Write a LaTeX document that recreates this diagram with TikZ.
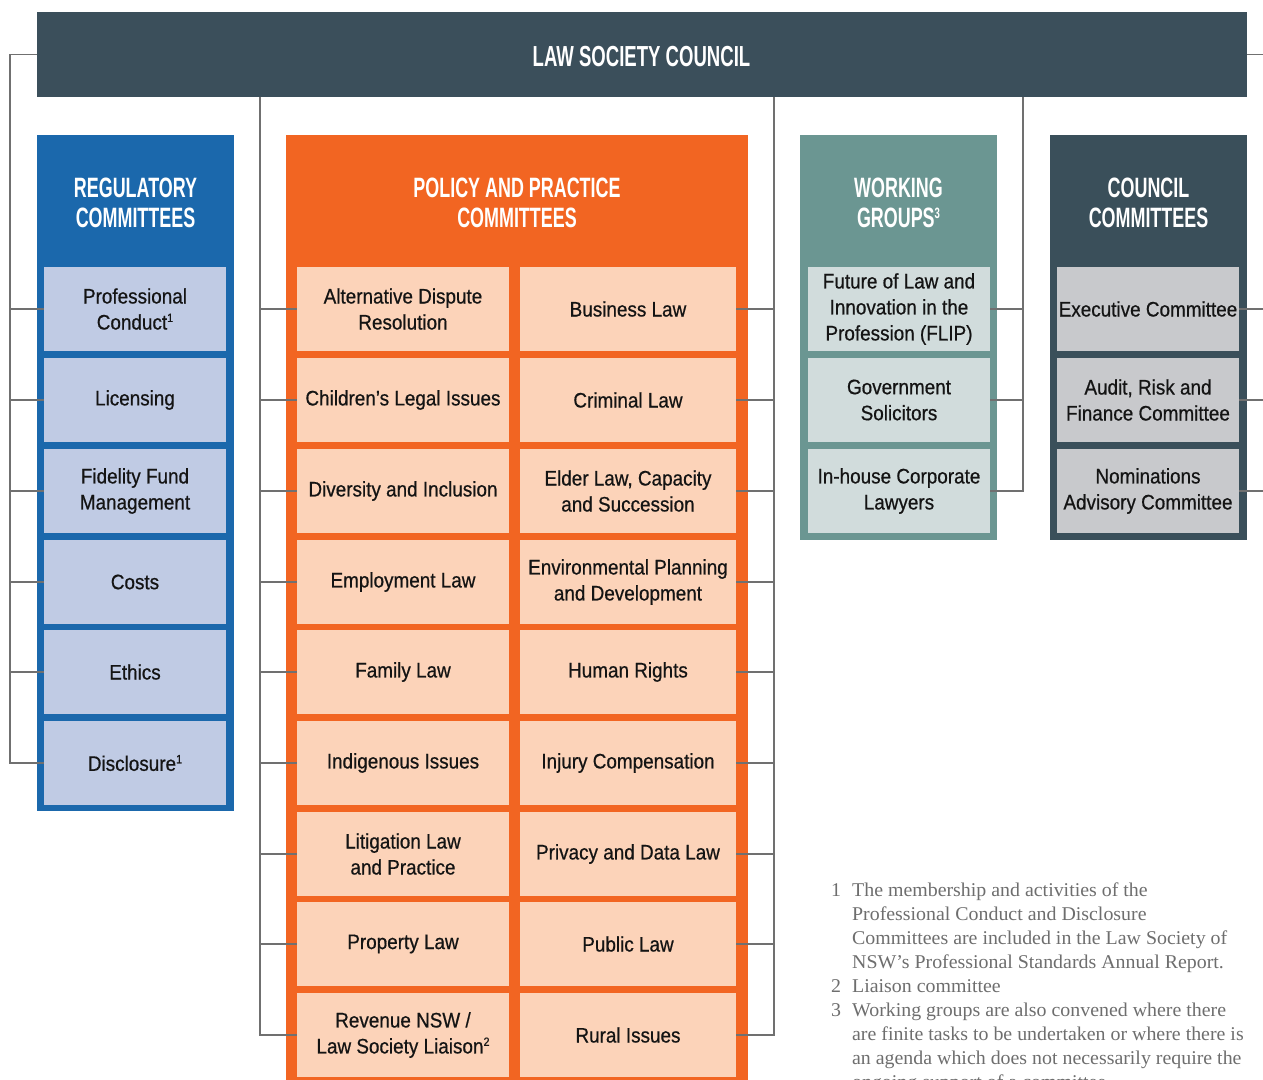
\documentclass[tikz,border=0pt]{standalone}
\usepackage{fontspec}
\setmainfont{Liberation Sans}
\newfontfamily\headfont{Liberation Sans}[FakeStretch=0.64]
\newfontfamily\itemfont{Liberation Sans}[FakeStretch=0.9, FakeBold=0.6]
\newfontfamily\notefont{Liberation Serif}[FakeStretch=1.02]
\newcommand\smallsup[1]{\raisebox{0.36em}{\fontsize{12}{12}\selectfont #1}}
\newcommand\headsup[1]{\raisebox{0.34em}{\fontsize{15}{15}\selectfont #1}}
\definecolor{topbar}{HTML}{3B4F5B}
\definecolor{regblue}{HTML}{1B68AC}
\definecolor{regitem}{HTML}{C0CBE4}
\definecolor{polorange}{HTML}{F26522}
\definecolor{politem}{HTML}{FCD3B9}
\definecolor{wgteal}{HTML}{6B9692}
\definecolor{wgitem}{HTML}{D1DCDC}
\definecolor{council}{HTML}{3A4F5A}
\definecolor{coitem}{HTML}{C8C9CC}
\definecolor{linegray}{HTML}{707070}
\definecolor{notegray}{HTML}{6E6E6E}
\begin{document}
\begin{tikzpicture}[x=1pt,y=-1pt,
  panelbox/.style={inner sep=0pt, outer sep=0pt, draw=none},
  headtext/.style={text=white, align=center, inner sep=0pt,
    font=\headfont\bfseries\fontsize{28}{30}\selectfont},
  itembox/.style={inner sep=0pt, outer sep=0pt, minimum height=84pt, align=center,
    text=black!92, font=\itemfont\fontsize{21}{26}\selectfont},
  regbox/.style={itembox, fill=regitem, minimum width=182pt},
  polLbox/.style={itembox, fill=politem, minimum width=212pt},
  polRbox/.style={itembox, fill=politem, minimum width=216pt},
  wgbox/.style={itembox, fill=wgitem, minimum width=182pt},
  cobox/.style={itembox, fill=coitem, minimum width=182pt},
  conn/.style={draw=linegray, line width=1.5pt}
]
\useasboundingbox (0,0) rectangle (1263,1079);
\clip (0,0) rectangle (1263,1079);
\fill[white] (0,0) rectangle (1263,1079);

% top bar
\node[panelbox, fill=topbar, minimum width=1210pt, minimum height=85pt] (top) at (642,54.5) {};
\node[headtext, font=\headfont\bfseries\fontsize{29}{30}\selectfont] (toptitle) at (641.5,57) {LAW SOCIETY COUNCIL};

% panels
\node[panelbox, fill=regblue, minimum width=197pt, minimum height=676pt] (regp) at (135.5,473) {};
\node[panelbox, fill=polorange, minimum width=462pt, minimum height=960pt] (polp) at (517,615) {};
\node[panelbox, fill=wgteal, minimum width=197pt, minimum height=405pt] (wgp) at (898.5,337.5) {};
\node[panelbox, fill=council, minimum width=197pt, minimum height=405pt] (cop) at (1148.5,337.5) {};

\node[headtext] (regh) at (135.5,203) {REGULATORY\\COMMITTEES};
\node[headtext] (polh) at (517,203) {POLICY AND PRACTICE\\COMMITTEES};
\node[headtext] (wgh) at (898.5,203) {WORKING\\GROUPS\headsup{3}};
\node[headtext] (coh) at (1148.5,203) {COUNCIL\\COMMITTEES};

% connector coordinates
\coordinate (lvx) at (10,0);
\coordinate (plx) at (260,0);
\coordinate (prx) at (774,0);
\coordinate (wgx) at (1023,0);
\coordinate (edge) at (1263,0);

% regulatory items
\node[regbox] (r1) at (135,309) {Professional\\Conduct\smallsup{1}};
\node[regbox] (r2) at (135,400) {Licensing};
\node[regbox] (r3) at (135,491) {Fidelity Fund\\Management};
\node[regbox] (r4) at (135,582) {Costs};
\node[regbox] (r5) at (135,672) {Ethics};
\node[regbox] (r6) at (135,763) {Disclosure\smallsup{1}};

% policy items
\node[polLbox] (pl1) at (403,309) {Alternative Dispute\\Resolution};
\node[polLbox] (pl2) at (403,400) {Children’s Legal Issues};
\node[polLbox] (pl3) at (403,491) {Diversity and Inclusion};
\node[polLbox] (pl4) at (403,582) {Employment Law};
\node[polLbox] (pl5) at (403,672) {Family Law};
\node[polLbox] (pl6) at (403,763) {Indigenous Issues};
\node[polLbox] (pl7) at (403,854) {Litigation Law\\and Practice};
\node[polLbox] (pl8) at (403,944) {Property Law};
\node[polLbox] (pl9) at (403,1035) {Revenue NSW /\\Law Society Liaison\smallsup{2}};

\node[polRbox] (pr1) at (628,309) {Business Law};
\node[polRbox] (pr2) at (628,400) {Criminal Law};
\node[polRbox] (pr3) at (628,491) {Elder Law, Capacity\\and Succession};
\node[polRbox] (pr4) at (628,582) {Environmental Planning\\and Development};
\node[polRbox] (pr5) at (628,672) {Human Rights};
\node[polRbox] (pr6) at (628,763) {Injury Compensation};
\node[polRbox] (pr7) at (628,854) {Privacy and Data Law};
\node[polRbox] (pr8) at (628,944) {Public Law};
\node[polRbox] (pr9) at (628,1035) {Rural Issues};

% working groups
\node[wgbox] (w1) at (899,309) {Future of Law and\\Innovation in the\\Profession (FLIP)};
\node[wgbox] (w2) at (899,400) {Government\\Solicitors};
\node[wgbox] (w3) at (899,491) {In-house Corporate\\Lawyers};

% council committees
\node[cobox] (c1) at (1148,309) {Executive Committee};
\node[cobox] (c2) at (1148,400) {Audit, Risk and\\Finance Committee};
\node[cobox] (c3) at (1148,491) {Nominations\\Advisory Committee};

% connectors: regulatory
\draw[conn] (top.west) -| (r6.west -| lvx) -- (r6.west);
\foreach \n in {r1,r2,r3,r4,r5} \draw[conn] (\n.west -| lvx) -- (\n.west);
% connectors: policy left
\draw[conn] (top.south -| plx) -- (pl9.west -| plx) -- (pl9.west);
\foreach \n in {pl1,pl2,pl3,pl4,pl5,pl6,pl7,pl8} \draw[conn] (\n.west -| plx) -- (\n.west);
% connectors: policy right
\draw[conn] (top.south -| prx) -- (pr9.east -| prx) -- (pr9.east);
\foreach \n in {pr1,pr2,pr3,pr4,pr5,pr6,pr7,pr8} \draw[conn] (\n.east -| prx) -- (\n.east);
% connectors: working groups
\draw[conn] (top.south -| wgx) -- (w3.east -| wgx) -- (w3.east);
\foreach \n in {w1,w2} \draw[conn] (\n.east -| wgx) -- (\n.east);
% connectors: council
\draw[conn] (top.east) -- (top.east -| edge);
\foreach \n in {c1,c2,c3} \draw[conn] (\n.east) -- (\n.east -| edge);

% footnotes
\node[anchor=base west, inner sep=0pt, text=notegray, font=\notefont\fontsize{19.5}{24}\selectfont] (notes) at (831,896) {%
\begin{tabular}[t]{@{}l@{\hspace{11pt}}l@{}}
1 & The membership and activities of the\\
  & Professional Conduct and Disclosure\\
  & Committees are included in the Law Society of\\
  & NSW’s Professional Standards Annual Report.\\
2 & Liaison committee\\
3 & Working groups are also convened where there\\
  & are finite tasks to be undertaken or where there is\\
  & an agenda which does not necessarily require the\\
  & ongoing support of a committee.
\end{tabular}};
\end{tikzpicture}
\end{document}
